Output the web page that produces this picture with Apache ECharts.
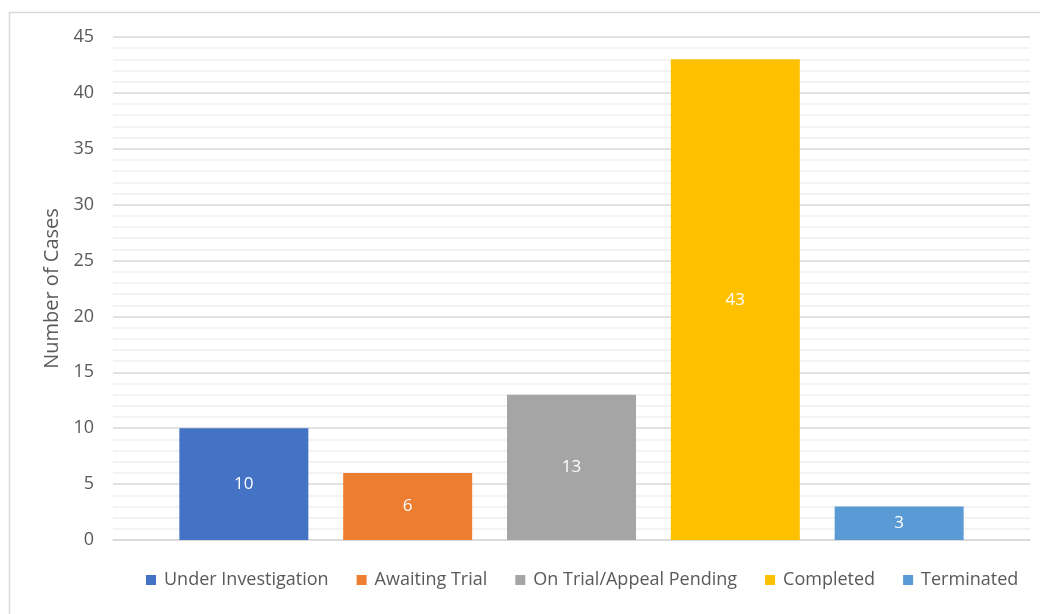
<!DOCTYPE html>
<html>
<head>
<meta charset="utf-8">
<script src="https://cdn.jsdelivr.net/npm/echarts@6/dist/echarts.min.js"></script>
<style>
  html, body { margin: 0; padding: 0; background: #fff; }
  #chart { width: 1040px; height: 614px; }
</style>
</head>
<body>
<div id="chart"></div>
<script>
// Case status counts
const categories = ['Cases'];
const statusNames = ['Under Investigation', 'Awaiting Trial', 'On Trial/Appeal Pending', 'Completed', 'Terminated'];
const statusCounts = [10, 6, 13, 43, 3];
const statusColors = ['#4472C4', '#ED7D31', '#A5A5A5', '#FFC000', '#5B9BD5'];
const yTicks = { min: 0, max: 45, interval: 5 };

const font = '"Open Sans", "Noto Sans", sans-serif';

const chart = echarts.init(document.getElementById('chart'), null, { renderer: 'canvas' });

const series = statusNames.map((name, i) => ({
  name: name,
  type: 'bar',
  data: [statusCounts[i]],
  barWidth: 129,
  barGap: '27%',
  itemStyle: { color: statusColors[i] },
  label: {
    show: true,
    position: 'inside',
    color: '#ffffff',
    fontFamily: font,
    fontSize: 17
  }
}));

chart.setOption({
  animation: false,
  backgroundColor: '#ffffff',
  graphic: [{
    type: 'rect',
    shape: { x: 9.5, y: 12.5, width: 1040, height: 620 },
    style: { fill: 'none', stroke: '#d9d9d9', lineWidth: 1.5 },
    silent: true
  }],
  grid: { left: 113, right: 10, top: 37, bottom: 74 },
  legend: {
    top: 566,
    left: 141,
    icon: 'rect',
    itemWidth: 10,
    itemHeight: 10,
    itemGap: 28,
    textStyle: { color: '#595959', fontFamily: font, fontSize: 18, padding: [0, 0, 0, 3] },
    data: statusNames
  },
  xAxis: {
    type: 'category',
    data: categories,
    axisLine: { lineStyle: { color: '#d9d9d9', width: 1.5 } },
    axisTick: { show: false },
    axisLabel: { show: false }
  },
  yAxis: {
    type: 'value',
    min: yTicks.min,
    max: yTicks.max,
    interval: yTicks.interval,
    name: 'Number of Cases',
    nameLocation: 'middle',
    nameGap: 50,
    nameTextStyle: { color: '#595959', fontFamily: font, fontSize: 20 },
    axisLabel: { color: '#595959', fontFamily: font, fontSize: 18, margin: 19 },
    axisLine: { show: false },
    axisTick: { show: false },
    splitLine: { lineStyle: { color: '#d9d9d9', width: 1.5 } },
    minorTick: { show: false, splitNumber: 5 },
    minorSplitLine: { show: true, lineStyle: { color: '#efefef', width: 1.5 } }
  },
  series: series
});
</script>
</body>
</html>
